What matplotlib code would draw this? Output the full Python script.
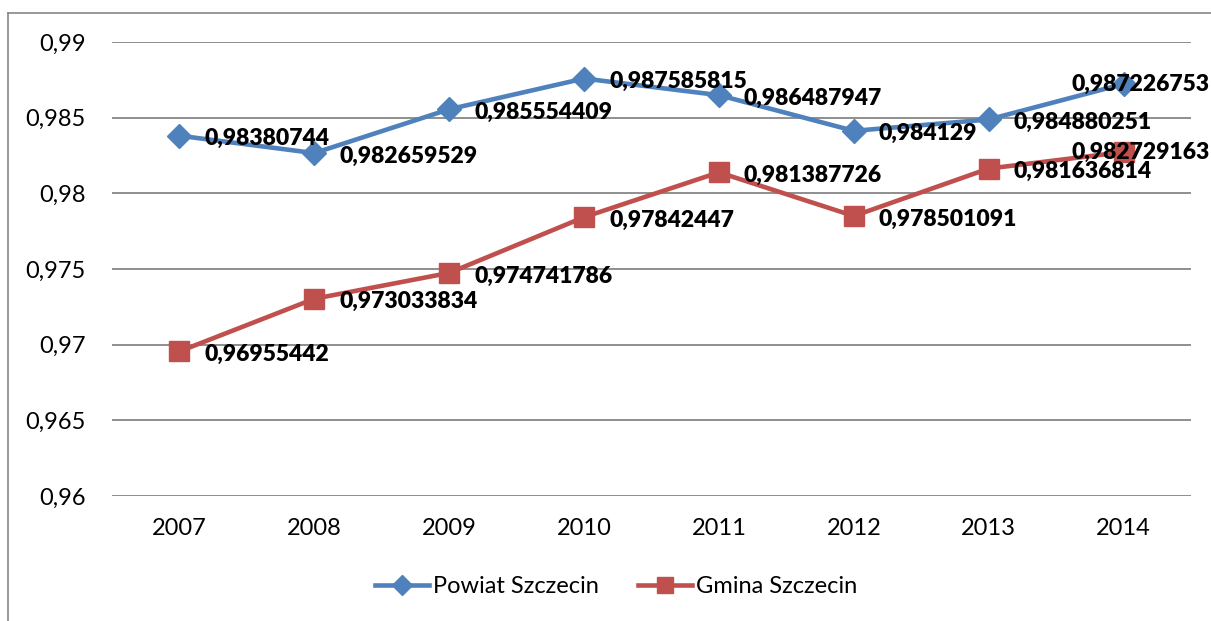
import matplotlib.pyplot as plt
from matplotlib.lines import Line2D

years = ['2007', '2008', '2009', '2010', '2011', '2012', '2013', '2014']
powiat = [0.98380744, 0.982659529, 0.985554409, 0.987585815,
          0.986487947, 0.984129, 0.984880251, 0.987226753]
gmina = [0.96955442, 0.973033834, 0.974741786, 0.97842447,
         0.981387726, 0.978501091, 0.981636814, 0.982729163]
powiat_labels = ['0,98380744', '0,982659529', '0,985554409', '0,987585815',
                 '0,986487947', '0,984129', '0,984880251', '0,987226753']
gmina_labels = ['0,96955442', '0,973033834', '0,974741786', '0,97842447',
                '0,981387726', '0,978501091', '0,981636814', '0,982729163']
y_ticks = [0.96, 0.965, 0.97, 0.975, 0.98, 0.985, 0.99]

plt.rcParams['font.family'] = ['Lato', 'DejaVu Sans']

fig = plt.figure(figsize=(12.11, 6.21), dpi=100)
ax = fig.add_axes([112 / 1211, 1 - 496 / 621, 1079 / 1211, 454 / 621])

blue = '#4F81BD'
red = '#C0504D'
x = list(range(len(years)))

ax.plot(x, powiat, color=blue, lw=3.3, marker='D', ms=12, label='Powiat Szczecin', zorder=3)
ax.plot(x, gmina, color=red, lw=3.3, marker='s', ms=14, label='Gmina Szczecin', zorder=3)

# data labels, right of point like Excel; last ones pushed left inside chart
for i in x:
    for vals, labs in ((powiat, powiat_labels), (gmina, gmina_labels)):
        if i == len(x) - 1:
            ax.annotate(labs[i], (i, vals[i]), xytext=(86, 0), textcoords='offset pixels',
                        ha='right', va='center', fontsize=16.5, fontweight='heavy', zorder=4,
                        annotation_clip=False)
        else:
            ax.annotate(labs[i], (i, vals[i]), xytext=(25, -3), textcoords='offset pixels',
                        ha='left', va='center', fontsize=16.5, fontweight='heavy', zorder=4)

ax.set_xlim(-0.5, 7.5)
ax.set_ylim(0.96, 0.99)
ax.set_xticks(x)
ax.set_xticklabels(years, fontsize=17)
ax.set_yticks(y_ticks)
ax.set_yticklabels([f'{v:g}'.replace('.', ',') for v in y_ticks], fontsize=17)
ax.tick_params(length=0)
ax.tick_params(axis='y', pad=19)
ax.tick_params(axis='x', pad=16)
ax.grid(axis='y', color='#868686', lw=1.3)
ax.set_axisbelow(True)
for s in ax.spines.values():
    s.set_visible(False)

ax.legend(loc='center', bbox_to_anchor=(0.467, -0.2), ncol=2, frameon=False,
          fontsize=17, handlelength=2.3, columnspacing=1.65, handletextpad=0.15,
          markerscale=0.85)

# outer chart border (left and top visible)
fig.add_artist(Line2D([8 / 1211, 8 / 1211], [0, 1 - 13 / 621], color='#868686', lw=1.2))
fig.add_artist(Line2D([8 / 1211, 1], [1 - 13 / 621, 1 - 13 / 621], color='#868686', lw=1.2))

fig.savefig('out.png', dpi=100)
